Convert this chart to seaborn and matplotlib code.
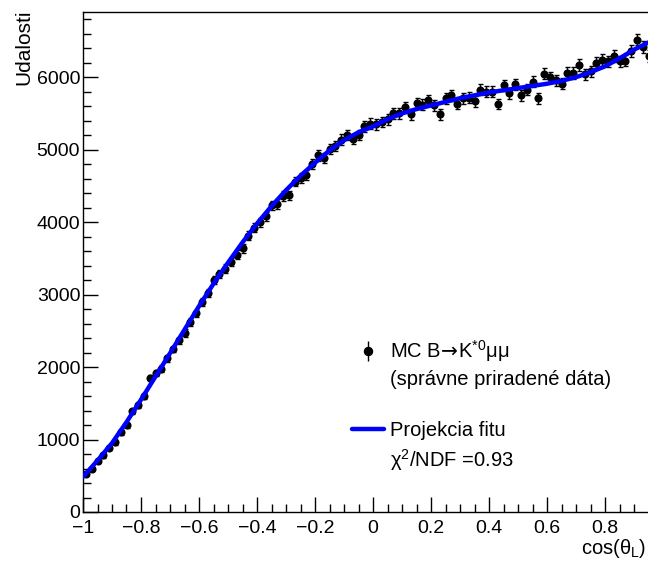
import numpy as np
import pandas as pd
import matplotlib
matplotlib.use("Agg")
import matplotlib.pyplot as plt
import seaborn as sns
from matplotlib.ticker import MultipleLocator, FuncFormatter
from matplotlib.lines import Line2D

# ---------------- data ----------------
x_min, x_max, n_bins = -1.0, 1.0, 100

counts = [
    530, 600, 700, 780, 880, 960, 1100, 1200, 1390, 1480,
    1600, 1850, 1920, 1980, 2120, 2250, 2370, 2470, 2620, 2740,
    2900, 3020, 3200, 3280, 3360, 3450, 3550, 3640, 3810, 3920,
    4000, 4080, 4230, 4250, 4360, 4370, 4560, 4610, 4650, 4800,
    4920, 4880, 5010, 5050, 5140, 5200, 5150, 5200, 5320, 5360,
    5350, 5380, 5420, 5500, 5500, 5590, 5490, 5640, 5620, 5680,
    5610, 5490, 5710, 5750, 5630, 5710, 5720, 5670, 5830, 5800,
    5800, 5630, 5890, 5780, 5900, 5750, 5830, 5940, 5710, 6050,
    6000, 5960, 5910, 6060, 6060, 6170, 6040, 6080, 6200, 6240,
    6220, 6290, 6220, 6230, 6360, 6520, 6420, 6290, 6430, 6480,
]

fit_x = [-1.00, -0.95, -0.90, -0.85, -0.80, -0.75, -0.70, -0.65, -0.60, -0.55,
         -0.50, -0.45, -0.40, -0.35, -0.30, -0.25, -0.20, -0.15, -0.10, -0.05,
         0.00, 0.05, 0.10, 0.15, 0.20, 0.25, 0.30, 0.35, 0.40, 0.45,
         0.50, 0.55, 0.60, 0.65, 0.70, 0.75, 0.80, 0.85, 0.90, 0.95, 1.00]
fit_y = [485, 710, 950, 1240, 1550, 1870, 2190, 2515, 2840, 3150,
         3440, 3720, 3980, 4220, 4440, 4640, 4820, 4990, 5130, 5240,
         5320, 5420, 5500, 5560, 5610, 5660, 5710, 5750, 5790, 5820,
         5850, 5880, 5910, 5950, 6000, 6070, 6150, 6260, 6380, 6480, 6560]

x_ticks = [-1, -0.8, -0.6, -0.4, -0.2, 0, 0.2, 0.4, 0.6, 0.8, 1]
y_ticks = [0, 1000, 2000, 3000, 4000, 5000, 6000]

legend_data_label = r"MC B$\!\mathsf{\rightarrow}\!$K$^{*0}$μμ"
legend_data_sub = "(správne priradené dáta)"
legend_fit_label = "Projekcia fitu"
legend_chi2 = "χ$^{2}$/NDF =0.93"

# ---------------- build frames ----------------
edges = np.linspace(x_min, x_max, n_bins + 1)
centers = 0.5 * (edges[:-1] + edges[1:])
df = pd.DataFrame({"x": centers, "y": counts})
df["err"] = np.sqrt(df["y"])
fit_df = pd.DataFrame({"x": fit_x, "y": fit_y})

# ---------------- style ----------------
sns.set_theme(style="ticks")
plt.rcParams["font.family"] = ["Liberation Sans", "DejaVu Sans"]
plt.rcParams["mathtext.fontset"] = "custom"
plt.rcParams["mathtext.rm"] = "Liberation Sans"
plt.rcParams["mathtext.it"] = "Liberation Sans:italic"
plt.rcParams["mathtext.bf"] = "Liberation Sans:bold"
plt.rcParams["mathtext.sf"] = "DejaVu Sans"
plt.rcParams["mathtext.fallback"] = "stixsans"
plt.rcParams["axes.unicode_minus"] = True
plt.rcParams["text.color"] = "black"
plt.rcParams["axes.labelcolor"] = "black"

W, H = 648, 562
fig = plt.figure(figsize=(W / 100, H / 100), dpi=100)
ax_l, ax_r, ax_t, ax_b = 83, 663, 12, 512
ax = fig.add_axes([ax_l / W, 1 - ax_b / H, (ax_r - ax_l) / W, (ax_b - ax_t) / H])
ax.set_facecolor("white")

# error bars
ax.errorbar(df["x"], df["y"], yerr=df["err"], fmt="none", ecolor="black",
            elinewidth=1.0, capsize=1.8, capthick=1.0, zorder=2)
# points
sns.scatterplot(data=df, x="x", y="y", ax=ax, color="black", s=34,
                edgecolor="black", linewidth=0, zorder=3, legend=False)
# fit line
sns.lineplot(data=fit_df, x="x", y="y", ax=ax, color="#0000ff", lw=3.2,
             zorder=4, legend=False)

ax.set_xlim(x_min, x_max)
ax.set_ylim(0, 6900)

ax.set_xticks(x_ticks)
ax.xaxis.set_minor_locator(MultipleLocator(0.05))
ax.set_yticks(y_ticks)
ax.yaxis.set_minor_locator(MultipleLocator(200))
ax.xaxis.set_major_formatter(FuncFormatter(lambda v, p: ("%g" % v).replace("-", "\u2212")))
ax.yaxis.set_major_formatter(FuncFormatter(lambda v, p: "%d" % v))

ax.tick_params(axis="both", which="both", direction="in", top=False, right=False,
               colors="black", labelsize=14, width=1.0)
ax.tick_params(axis="both", which="major", length=11)
ax.tick_params(axis="both", which="minor", length=5.5)
ax.tick_params(axis="y", which="major", pad=2)
ax.tick_params(axis="x", which="major", pad=5.5)

for s in ax.spines.values():
    s.set_color("black")
    s.set_linewidth(1.0)
    s.set_visible(True)

ax.set_xlabel("cos(θ$_{\\mathrm{L}}$)", fontsize=14.5, ha="right", va="center")
ax.xaxis.set_label_coords((646 - ax_l) / (ax_r - ax_l), (ax_b - 549) / (ax_b - ax_t))
ax.set_ylabel("Udalosti", fontsize=15, ha="right", va="center")
ax.yaxis.set_label_coords((24 - ax_l) / (ax_r - ax_l), 1.005)

# legend
h_pt = Line2D([], [], marker="o", color="black", ls="none", ms=5.8)
h_bar = Line2D([], [], marker="|", color="black", ls="none", ms=14, mew=1.0)
h_blank = Line2D([], [], ls="none")
h_fit = Line2D([], [], color="#0000ff", lw=3.2)
handles = [(h_pt, h_bar), h_blank, h_blank, h_fit, h_blank]
labels = [legend_data_label, legend_data_sub, "", legend_fit_label, legend_chi2]
ax.legend(handles, labels, loc="upper left",
          bbox_to_anchor=((352 - ax_l) / (ax_r - ax_l), (ax_b - 338) / (ax_b - ax_t)),
          frameon=False, fontsize=14.5, handlelength=1.6, handletextpad=0.3,
          labelspacing=0.32, borderpad=0, borderaxespad=0)

fig.savefig("out.png", dpi=100, facecolor="white")
